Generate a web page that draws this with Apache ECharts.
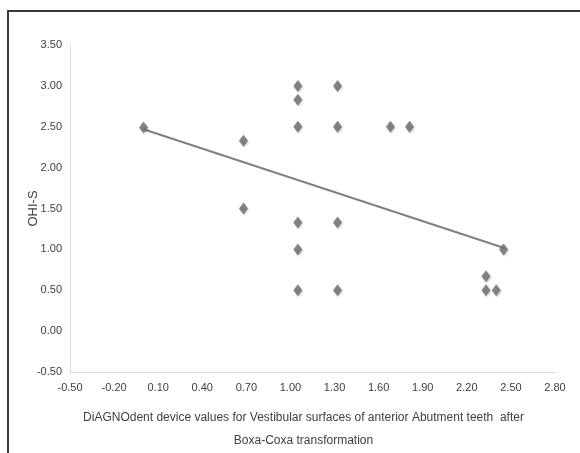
<!DOCTYPE html>
<html>
<head>
<meta charset="utf-8">
<script src="https://cdn.jsdelivr.net/npm/echarts@6/dist/echarts.min.js"></script>
<style>
html,body{margin:0;padding:0;background:#fff;}
#c{width:580px;height:453px;}
</style>
</head>
<body>
<div id="c"></div>
<script>
var xValues = [0.00, 0.68, 0.68, 1.05, 1.05, 1.05, 1.05, 1.05, 1.05, 1.32, 1.32, 1.32, 1.32, 1.68, 1.81, 2.33, 2.33, 2.40, 2.45];
var yValues = [2.49, 2.33, 1.50, 3.00, 2.83, 2.50, 1.33, 1.00, 0.50, 3.00, 2.50, 1.33, 0.50, 2.50, 2.50, 0.67, 0.50, 0.50, 1.00];
var trendX = [0.00, 2.45];
var trendY = [2.47, 1.02];
var xAxisTitle = 'DiAGNOdent device values for Vestibular surfaces of anterior Abutment teeth  after\nBoxa-Coxa transformation';
var yAxisTitle = 'OHI-S';

var points = xValues.map(function (x, i) { return [x, yValues[i]]; });
var trend = trendX.map(function (x, i) { return [x, trendY[i]]; });
var font = '"Liberation Sans Narrow", "Liberation Sans", Arial, sans-serif';

var chart = echarts.init(document.getElementById('c'), null, {renderer: 'canvas'});
chart.setOption({
  animation: false,
  backgroundColor: '#fff',
  textStyle: {fontFamily: font},
  grid: {left: 70, right: 25, top: 45, bottom: 81, containLabel: false, outerBoundsMode: 'none'},
  graphic: [{
    type: 'polyline',
    shape: {points: [[8, 453], [8, 11], [580, 11]]},
    style: {stroke: '#3a3a3a', lineWidth: 2, fill: null},
    z: 100
  }],
  xAxis: {
    type: 'value', min: -0.5, max: 2.8, interval: 0.3,
    axisLine: {show: true, onZero: false, lineStyle: {color: '#d9d9d9', width: 1}},
    axisTick: {show: false},
    splitLine: {show: false},
    axisLabel: {color: '#404040', fontSize: 11, fontFamily: font, margin: 10,
      formatter: function (v) { return v.toFixed(2); }},
    name: xAxisTitle, nameLocation: 'middle', nameGap: 34, nameMoveOverlap: false,
    nameTextStyle: {color: '#404040', fontSize: 12, fontFamily: font, lineHeight: 23,
      padding: [0, 18, 0, 0]}
  },
  yAxis: {
    type: 'value', min: -0.5, max: 3.5, interval: 0.5,
    axisLine: {show: true, onZero: false, lineStyle: {color: '#d9d9d9', width: 1}},
    axisTick: {show: false},
    splitLine: {show: false},
    axisLabel: {color: '#404040', fontSize: 11, fontFamily: font, margin: 8,
      formatter: function (v) { return v.toFixed(2); }},
    name: yAxisTitle, nameLocation: 'middle', nameGap: 30, nameRotate: 90, nameMoveOverlap: false,
    nameTextStyle: {color: '#404040', fontSize: 13, fontFamily: font, padding: [0, 0, 0, 0]}
  },
  series: [{
    type: 'line', data: trend, symbol: 'none', z: 2,
    lineStyle: {color: '#808080', width: 2}
  }, {
    type: 'scatter', data: points, symbol: 'diamond', symbolSize: [9, 12], z: 3,
    itemStyle: {color: '#6b6b6b', shadowColor: 'rgba(0,0,0,0.25)', shadowBlur: 2, shadowOffsetX: 1, shadowOffsetY: 1}
  }]
});
</script>
</body>
</html>
